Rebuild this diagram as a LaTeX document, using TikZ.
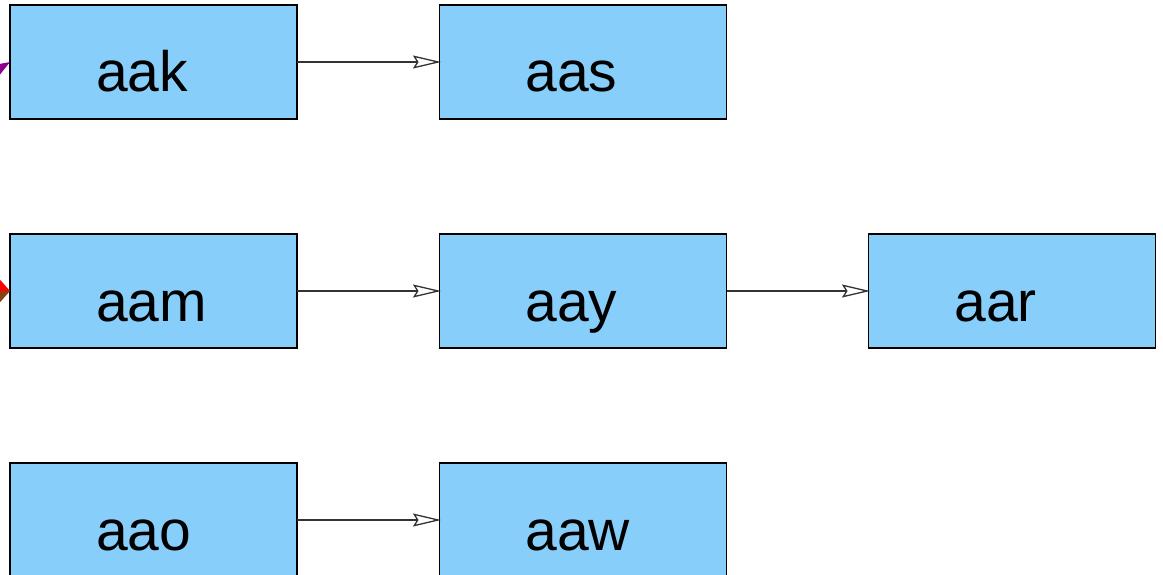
\documentclass[tikz,border=0pt]{standalone}
\usepackage{fontspec}
\setmainfont{Liberation Sans}
\usetikzlibrary{arrows.meta}
\definecolor{boxfill}{HTML}{87CEFA}
\definecolor{edgegray}{HTML}{333333}
\definecolor{inpurple}{HTML}{8E008E}
\definecolor{inred}{HTML}{FF0000}
\definecolor{inbrown}{HTML}{8B3E14}
\tikzset{
  box/.style={draw=black, line width=1.2pt, fill=boxfill, minimum width=287pt, minimum height=114pt,
    inner sep=0pt, outer sep=0pt, text height=60pt, text depth=0pt, font=\fontsize{57}{57}\selectfont},
  edge/.style={draw=edgegray, line width=1.3pt, shorten >=-1.5pt, -{Stealth[open, length=28pt, width=13pt, inset=4pt, line width=1.3pt]}},
  inedge/.style={line width=1.3pt, -{Triangle[length=16pt, width=#1]}},
}
\newcommand{\boxlabel}[1]{\hbox to 287pt{\hskip 86pt #1\hfil}}
\begin{document}
\begin{tikzpicture}[x=1pt,y=-1pt]
\useasboundingbox (0,0) rectangle (1163,575);
\clip (0,0) rectangle (1163,575);
\node[box] (aak) at (153.5,62) {\boxlabel{aak}};
\node[box] (aas) at (583,62) {\boxlabel{aas}};
\node[box] (aam) at (153.5,291) {\boxlabel{aam}};
\node[box] (aay) at (583,291) {\boxlabel{aay}};
\node[box] (aar) at (1012,291) {\boxlabel{aar}};
\node[box] (aao) at (153.5,520) {\boxlabel{aao}};
\node[box] (aaw) at (583,520) {\boxlabel{aaw}};
\draw[edge] (aak) -- (aas);
\draw[edge] (aam) -- (aay);
\draw[edge] (aay) -- (aar);
\draw[edge] (aao) -- (aaw);
\coordinate (pin) at (-75.7,113.5);
\coordinate (rin) at (-81.4,250.3);
\coordinate (bin) at (-81.4,331.7);
\draw[inpurple, fill=inpurple, inedge=11.6pt] (pin) -- (aak.west);
\draw[inred, fill=inred, inedge=14.2pt] (rin) -- (aam.west);
\draw[inbrown, fill=inbrown, inedge=14.2pt] (bin) -- (aam.west);
\end{tikzpicture}
\end{document}
